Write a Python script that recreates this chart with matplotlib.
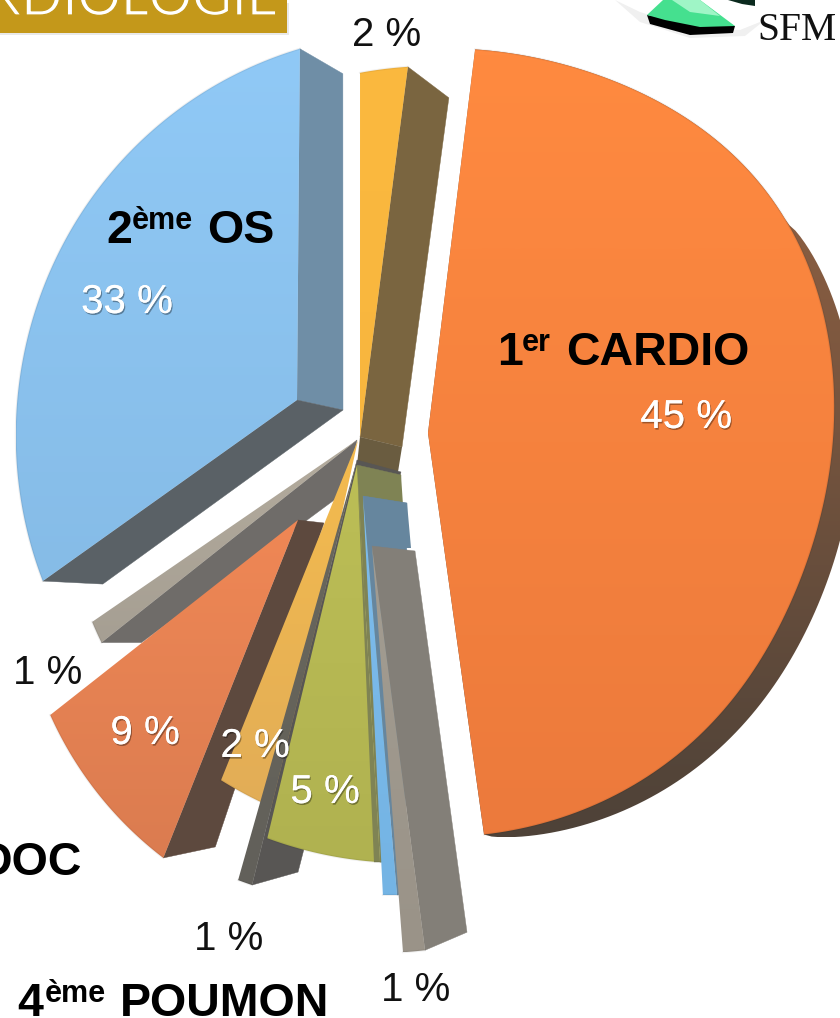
import numpy as np
import matplotlib
matplotlib.use("Agg")
import matplotlib.pyplot as plt
from matplotlib.patches import Polygon, Rectangle
import matplotlib.patheffects as pe

# ---- data (clockwise from the top) ----
slice_names = ["cardio", "gris_bas", "bleu_fin", "poumon", "gris_fonce",
               "jaune_bas", "rouge", "gris_gauche", "os", "jaune_haut"]
slice_values = [45, 1, 1, 5, 1, 2, 9, 1, 33, 2]
pct_labels_white = ["45 %", "33 %", "9 %", "2 %", "5 %"]
pct_labels_black = ["2 %", "1 %", "1 %", "1 %"]
title_text = "CARDIOLOGIE"

# ---- style / layout ----
W, H = 840, 1018
fig = plt.figure(figsize=(W / 100, H / 100), dpi=100)
ax = fig.add_axes([0, 0, 1, 1])
FONT = "Liberation Sans"
GOLD = "#c4981a"

# apex, rim centre, radius, start angle, angular stretch, gradient colours
geom = {
    "cardio":      ((428, 433), (440, 443), 394, 5.1, 1.04, "#ff8a40", "#ec7a3c"),
    "gris_bas":    ((372, 546), (378, 553), 400, 173.25, 0.88, "#a39d92", "#9a9388"),
    "bleu_fin":    ((363, 496), (390, 495), 400, 179.0, 0.56, "#7ebcec", "#74b4e4"),
    "poumon":      ((357, 465), (405.8, 463), 400, 183.7, 0.92, "#bcbe56", "#b0b250"),
    "gris_fonce":  ((357, 460), (386, 487), 420, 198.6, 0.56, "#6a685c", "#62605a"),
    "jaune_bas":   ((358, 440), (433, 441), 400, 203.0, 1.25, "#f4bb4e", "#e2ad57"),
    "rouge":       ((298, 520), (388, 564), 370, 217.4, 0.88, "#ef8755", "#db7c50"),
    "gris_gauche": ((357, 440), (443, 476), 380, 244.0, 0.95, "#b3ab9d", "#a69f93"),
    "os":          ((297, 400), (413, 433), 401, 248.2, 0.803, "#90c9f6", "#86bce7"),
    "jaune_haut":  ((360, 437), (433.6, 466), 400, 349.4, 0.96, "#fbb93f", "#f8b63e"),
}
# local rim corrections: amplitude, centre angle, width
bumps = {
    "cardio": [(18, 52, 20), (-9, 112, 18)],
    "os": [(-4, 280, 30)],
}
# side faces: slice, rim end, apex shift, rim shift, colour
sides = {
    "gris_gauche": [("start", (-12, 52), (40, 0), "#6f6c69")],
    "os": [("end", (46, 10), (43, 25), "#6f8ea6"), ("start", (46, 10), (60, 3), "#5a6166")],
    "jaune_haut": [("end", (42, 10), (41, 31), "#7a6540")],
    "rouge": [("start", (26, 3), (52, -11), "#5d493e")],
    "gris_fonce": [("start", (44, 12), (46, -13), "#585654")],
    "poumon": [("start", (44, 10), (6, 0), "#7f8354")],
    "bleu_fin": [("start", (44, 7), (8, 0), "#66869e")],
    "gris_bas": [("start", (43, 5), (42, -18), "#837f78")],
}
order = ["cardio", "os", "jaune_haut", "gris_gauche", "rouge", "jaune_bas",
         "gris_fonce", "poumon", "bleu_fin", "gris_bas"]
values = dict(zip(slice_names, slice_values))


def rim(name, extra=None):
    apex, c, r, a0, k, *_ = geom[name]
    deg = np.linspace(a0, a0 + values[name] * 3.6 * k, 160)
    rr = np.full_like(deg, r, dtype=float)
    for amp, mu, sd in bumps.get(name, []):
        rr += amp * np.exp(-((deg - mu) / sd) ** 2 / 2)
    if extra is not None:
        rr += extra(deg)
    a = np.radians(deg)
    return np.column_stack([c[0] + rr * np.sin(a), c[1] - rr * np.cos(a)])


def wedge_poly(name, extra=None):
    return np.vstack([geom[name][0], rim(name, extra)])


def grad_fill(poly, c1, c2, z):
    m = matplotlib.colors.to_rgb
    a, b = np.array(m(c1)), np.array(m(c2))
    g = (np.linspace(0, 1, 64)[:, None] * (b - a) + a).reshape(64, 1, 3)
    x0, y0 = poly.min(0)
    x1, y1 = poly.max(0)
    im = ax.imshow(g, extent=(x0, x1, y1, y0), aspect="auto", zorder=z, interpolation="bilinear")
    patch = Polygon(poly, closed=True, transform=ax.transData, fc="none", ec="none")
    ax.add_patch(patch)
    im.set_clip_path(patch)


# dark sliver behind the big slice
def sliver(deg):
    t = np.clip((deg - 58) / (173.5 - 58), 0, 1)
    return 26 * np.sin(np.pi * t) ** 0.6


grad_fill(wedge_poly("cardio", sliver), "#9a6544", "#4e4238", 1)

z = 2
for name in order:
    apex = np.array(geom[name][0], float)
    arc = rim(name)
    for end, va, vr, col in sides.get(name, []):
        p = arc[0] if end == "start" else arc[-1]
        ax.add_patch(Polygon([apex, p, p + vr, apex + va], closed=True, fc=col, ec=col, lw=0.3, zorder=z))
        z += 0.1
    grad_fill(wedge_poly(name), geom[name][5], geom[name][6], z)
    z += 0.1
    if name == "jaune_haut":
        ax.add_patch(Polygon([(360, 437), (402, 447), (398, 472), (357, 465)], closed=True,
                             fc="#6a5c40", ec="none", zorder=z))
        ax.add_patch(Polygon([(357, 465), (401, 475), (403, 505), (363, 496)], closed=True,
                             fc="#7f8354", ec="none", zorder=z))
        z += 0.1
    if name == "poumon":
        ax.add_patch(Polygon([apex, arc[0], arc[0] + (-6, 0)], closed=True, fc="#7f8354", ec="none", zorder=z))
        ax.add_patch(Polygon([(363, 496), (407, 503), (411, 548), (372, 548)], closed=True,
                             fc="#66869e", ec="none", zorder=z))
        z += 0.1
    ax.plot(arc[:, 0], arc[:, 1], color="#000000", alpha=0.06, lw=1.5, zorder=z)
    z += 0.1

# header box
ax.add_patch(Rectangle((-5, 3), 294, 32, fc="#cfcfcf", ec="none", alpha=0.45, zorder=20))
ax.add_patch(Rectangle((-5, -5), 292, 38, fc=GOLD, ec="none", zorder=21))
ax.text(278, 15, title_text, ha="right", va="baseline", fontsize=39, color="white",
        family="Lato", zorder=22, path_effects=[pe.Stroke(linewidth=0.9, foreground=GOLD)])

# logo
ax.add_patch(Polygon([(615, 0), (640, 22), (690, 38), (745, 36), (765, 20), (740, 30), (690, 28), (640, 12)],
                     closed=True, fc="#f0f0f0", ec="none", zorder=9))
ax.add_patch(Polygon([(647, 15), (650, 24), (690, 35), (733, 33), (735, 26), (690, 22)], closed=True,
                     fc="#000000", ec="none", zorder=10))
ax.add_patch(Polygon([(647, 15), (663, 0), (700, 0), (735, 26), (700, 27), (665, 20)], closed=True,
                     fc="#45e08f", ec="none", zorder=11))
ax.add_patch(Polygon([(672, 0), (700, 0), (720, 16), (690, 12)], closed=True, fc="#9ff5c6", ec="none", zorder=12))
ax.add_patch(Polygon([(728, 0), (755, 0), (755, 6), (742, 4)], closed=True, fc="#0b2a1e", ec="none", zorder=12))
ax.text(757, 40, "SFM", family="Liberation Serif", fontsize=28.5, color="#111111", ha="left", va="baseline", zorder=13)

# percent labels
shadow = [pe.withSimplePatchShadow(offset=(0.8, -1.2), shadow_rgbFace="#000000", alpha=0.35), pe.Normal()]
white_pos = [(686, 428), (127, 313), (145, 744), (255, 757), (325, 803)]
for s, (x, y) in zip(pct_labels_white, white_pos):
    ax.text(x, y, s, family=FONT, fontsize=29, color="white", ha="center", va="baseline",
            zorder=30, path_effects=shadow)
black_pos = [(387, 46), (48, 684), (229, 950), (416, 1001)]
for s, (x, y) in zip(pct_labels_black, black_pos):
    ax.text(x, y, s, family=FONT, fontsize=29, color="#111111", ha="center", va="baseline", zorder=30)


def ranked(x_num, num, x_sup, sup, x_name, name, y):
    ax.text(x_num, y, num, family=FONT, weight="bold", fontsize=33.5, color="black", va="baseline", zorder=31)
    ax.text(x_sup, y - 14, sup, family=FONT, weight="bold", fontsize=22, color="black", va="baseline", zorder=31)
    ax.text(x_name, y, name, family=FONT, weight="bold", fontsize=33.5, color="black", va="baseline", zorder=31)


ranked(497, "1", 522, "er", 566, "CARDIO", 365)
ranked(106, "2", 132, "ème", 207, "OS", 243)
ranked(17, "4", 45, "ème", 120, "POUMON", 1016)
ax.text(82, 875, "DOC", family=FONT, weight="bold", fontsize=33.5, color="black", ha="right", va="baseline", zorder=31)

ax.set_xlim(0, W)
ax.set_ylim(H, 0)
ax.axis("off")
fig.savefig("out.png", dpi=100, facecolor="white")
